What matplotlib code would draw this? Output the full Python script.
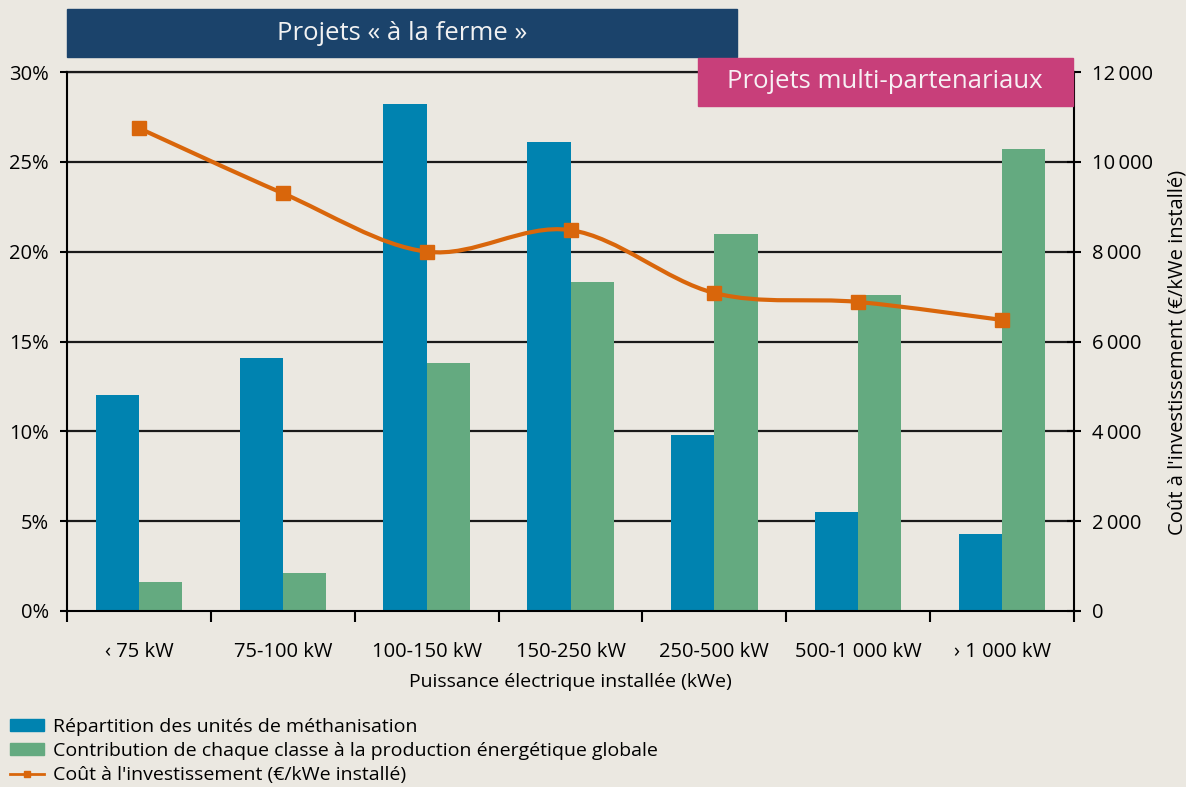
import numpy as np
import matplotlib.pyplot as plt
from matplotlib.path import Path
from matplotlib.patches import PathPatch, Rectangle
from matplotlib.lines import Line2D

plt.rcParams['font.family'] = ['Open Sans', 'DejaVu Sans']

categories = ['‹ 75 kW', '75-100 kW', '100-150 kW', '150-250 kW',
              '250-500 kW', '500-1 000 kW', '› 1 000 kW']
repartition = [12.0, 14.1, 28.2, 26.1, 9.8, 5.5, 4.3]
contribution = [1.6, 2.1, 13.8, 18.3, 21.0, 17.6, 25.7]
cout = [10750, 9300, 8000, 8480, 7080, 6880, 6480]
pct_ticks = [0, 5, 10, 15, 20, 25, 30]
cost_ticks = [0, 2000, 4000, 6000, 8000, 10000, 12000]

BG = '#ebe8e1'
BLUE = '#0083b0'
GREEN = '#64aa80'
ORANGE = '#d9660b'
NAVY = '#1b436b'
PINK = '#c83f7a'
FS = 14

fig = plt.figure(figsize=(11.86, 7.87), dpi=100, facecolor=BG)
ax = fig.add_axes([67 / 1186, 1 - 611 / 787, 1007 / 1186, 539 / 787])
ax.set_facecolor(BG)

x = np.arange(len(categories))
w = 0.3
ax.bar(x - w / 2, repartition, w, color=BLUE, zorder=2)
ax.bar(x + w / 2, contribution, w, color=GREEN, zorder=2)

ax.set_xlim(-0.5, len(categories) - 0.5)
ax.set_ylim(0, 30)
ax.set_yticks(pct_ticks)
ax.set_yticklabels([f'{t}%' for t in pct_ticks], fontsize=14.5)
for t in pct_ticks[1:]:
    ax.axhline(t, color='#1a1a1a', lw=1.6, zorder=1)
# top line at 30%
ax.axhline(30, color='#1a1a1a', lw=1.6, zorder=1, clip_on=False)

ax.set_xticks(np.arange(len(categories) + 1) - 0.5)
ax.set_xticklabels([])
ax.set_xticks(x, minor=True)
ax.set_xticklabels(categories, minor=True, fontsize=14.5)
ax.tick_params(axis='x', which='major', length=8, width=1.5, direction='out')
ax.tick_params(axis='x', which='minor', length=0, pad=22)
ax.tick_params(axis='y', length=5, width=1.5, direction='out', pad=8)
ax.set_xlabel('Puissance électrique installée (kWe)', fontsize=FS, labelpad=8)

ax.spines['top'].set_visible(False)
ax.spines['right'].set_visible(False)
ax.spines['left'].set_linewidth(1.5)
ax.spines['bottom'].set_linewidth(1.5)

ax2 = ax.twinx()
ax2.set_ylim(0, 12000)
ax2.set_yticks(cost_ticks)
ax2.set_yticklabels([f'{t:,}'.replace(',', '\u2009') if t else '0' for t in cost_ticks],
                    fontsize=14.5)
ax2.tick_params(axis='y', length=10, width=1.5, direction='inout', pad=8)
for s in ['top', 'left', 'bottom']:
    ax2.spines[s].set_visible(False)
ax2.spines['right'].set_linewidth(1.5)
ax2.set_ylabel("Coût à l'investissement (€/kWe installé)", fontsize=14.5)
ax2.yaxis.set_label_coords(1100 / 1007, 0.48)

# smoothed line (Catmull-Rom as cubic Bezier) in data coordinates
px = x.astype(float)
py = np.array(cout, dtype=float)
verts = [(px[0], py[0])]
codes = [Path.MOVETO]
n = len(px)
for i in range(n - 1):
    p0 = (px[max(i - 1, 0)], py[max(i - 1, 0)])
    p1 = (px[i], py[i])
    p2 = (px[i + 1], py[i + 1])
    p3 = (px[min(i + 2, n - 1)], py[min(i + 2, n - 1)])
    c1 = (p1[0] + (p2[0] - p0[0]) / 6, p1[1] + (p2[1] - p0[1]) / 6)
    c2 = (p2[0] - (p3[0] - p1[0]) / 6, p2[1] - (p3[1] - p1[1]) / 6)
    verts += [c1, c2, p2]
    codes += [Path.CURVE4] * 3
ax2.add_patch(PathPatch(Path(verts, codes), fill=False, edgecolor=ORANGE, lw=3, zorder=3))
ax2.plot(px, py, ls='none', marker='s', ms=10, color=ORANGE, zorder=4)

# header boxes
fig.patches.append(Rectangle((67 / 1186, 1 - 57 / 787), 670 / 1186, 48 / 787,
                             transform=fig.transFigure, color=NAVY, zorder=5))
fig.text(402 / 1186, 1 - 33 / 787, 'Projets « à la ferme »', color='#f2f2f2',
         fontsize=18.5, ha='center', va='center', zorder=6)
fig.patches.append(Rectangle((698 / 1186, 1 - 106 / 787), 375 / 1186, 48 / 787,
                             transform=fig.transFigure, color=PINK, zorder=5))
fig.text(885 / 1186, 1 - 81 / 787, 'Projets multi-partenariaux', color='#f7f0f4',
         fontsize=18.5, ha='center', va='center', zorder=6)

handles = [Rectangle((0, 0), 1, 1, color=BLUE),
           Rectangle((0, 0), 1, 1, color=GREEN),
           Line2D([], [], color=ORANGE, lw=2, marker='s', ms=5)]
labels = ['Répartition des unités de méthanisation',
          'Contribution de chaque classe à la production énergétique globale',
          "Coût à l'investissement (€/kWe installé)"]
fig.legend(handles, labels, loc='lower left', bbox_to_anchor=(0.0, -0.009),
           frameon=False, fontsize=FS, handlelength=1.75, handleheight=0.55,
           handletextpad=0.5, labelspacing=0.32, borderaxespad=0.3, borderpad=0.2)

fig.savefig('out.png', dpi=100, facecolor=BG)
